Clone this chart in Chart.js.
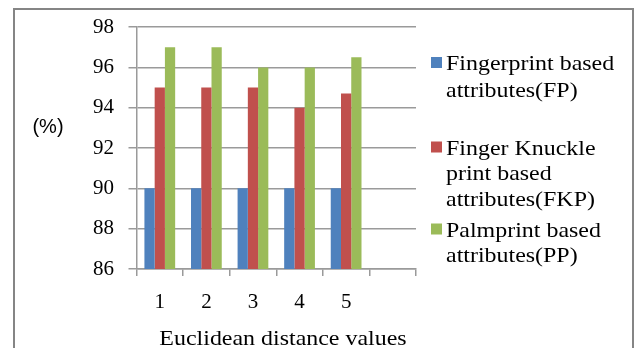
<!DOCTYPE html>
<html>
<head>
<meta charset="utf-8">
<script src="https://cdn.jsdelivr.net/npm/chart.js@4"></script>
<style>
html,body{margin:0;padding:0;background:#fff;}
canvas{display:block;}
</style>
</head>
<body>
<canvas id="c" width="640" height="348"></canvas>
<script>
// ---- data ----
const categories = ['1', '2', '3', '4', '5', ''];
const fpValues  = [90, 90, 90, 90, 90];
const fkpValues = [95, 95, 95, 94, 94.7];
const ppValues  = [97, 97, 96, 96, 96.5];
const yTickValues = [86, 88, 90, 92, 94, 96, 98];
const seriesNames = [
  'Fingerprint based attributes(FP)',
  'Finger Knuckle print based attributes(FKP)',
  'Palmprint based attributes(PP)'
];
const legendLines = [
  ['Fingerprint based', 'attributes(FP)'],
  ['Finger Knuckle', 'print based', 'attributes(FKP)'],
  ['Palmprint based', 'attributes(PP)']
];
const xTitle = 'Euclidean distance values';
const yTitle = '(%)';

// ---- styles ----
const SERIF = '"Liberation Serif", "Times New Roman", serif';
const seriesColors = ['#4F81BD', '#C0504D', '#9BBB59'];
const gridColor = '#9a9a9a';

function stretchText(ctx, text, x, y, align) {
  ctx.save();
  ctx.translate(x, y);
  ctx.scale(1.14, 1);
  ctx.textAlign = align;
  ctx.textBaseline = 'alphabetic';
  ctx.font = '21px ' + SERIF;
  ctx.fillStyle = '#000';
  ctx.fillText(text, 0, 0);
  ctx.restore();
}

const decor = {
  id: 'decor',
  beforeDraw(chart) {
    const ctx = chart.ctx;
    ctx.save();
    ctx.strokeStyle = '#858585';
    ctx.lineWidth = 2;
    ctx.beginPath();
    ctx.moveTo(14, 360);
    ctx.lineTo(14, 9);
    ctx.lineTo(633, 9);
    ctx.lineTo(633, 360);
    ctx.stroke();
    ctx.restore();
  },
  afterDraw(chart) {
    const ctx = chart.ctx;
    ctx.save();
    ctx.fillStyle = '#000';
    ctx.font = '20px "Liberation Sans", Arial, sans-serif';
    ctx.textAlign = 'center';
    ctx.textBaseline = 'alphabetic';
    ctx.fillText(yTitle, 48, 133);
    ctx.restore();

    stretchText(ctx, xTitle, 283, 345, 'center');

    const baselines = [[70, 96.5], [154.5, 180, 205.5], [236.5, 262]];
    legendLines.forEach((lines, i) => {
      ctx.save();
      ctx.fillStyle = chart.data.datasets[i].backgroundColor;
      ctx.fillRect(431, baselines[i][0] - 13, 11, 11);
      ctx.restore();
      lines.forEach((t, j) => stretchText(ctx, t, 446, baselines[i][j], 'left'));
    });
  }
};

new Chart(document.getElementById('c'), {
  type: 'bar',
  data: {
    labels: categories,
    datasets: [
      { label: seriesNames[0], data: fpValues,  backgroundColor: seriesColors[0] },
      { label: seriesNames[1], data: fkpValues, backgroundColor: seriesColors[1] },
      { label: seriesNames[2], data: ppValues,  backgroundColor: seriesColors[2] }
    ]
  },
  options: {
    responsive: false,
    animation: false,
    devicePixelRatio: 1,
    layout: { padding: { top: 24, right: 224, bottom: 0, left: 0 } },
    datasets: { bar: { barPercentage: 1.0, categoryPercentage: 0.66 } },
    plugins: {
      legend: { display: false },
      tooltip: { enabled: false },
      title: { display: false }
    },
    scales: {
      x: {
        afterFit(scale) { scale.height = 79; },
        grid: { display: true, drawOnChartArea: false, drawTicks: true, tickLength: 7, color: gridColor, lineWidth: 1.5, offset: true },
        border: { display: true, color: gridColor, width: 1.5 },
        ticks: { color: '#000', font: { family: SERIF, size: 21 }, padding: 14, maxRotation: 0 }
      },
      y: {
        min: 86,
        max: 98,
        afterFit(scale) { scale.width = 136.5; },
        afterBuildTicks(scale) { scale.ticks = yTickValues.map(v => ({ value: v })); },
        grid: { display: true, drawTicks: true, tickLength: 8, color: gridColor, lineWidth: 1.5 },
        border: { display: true, color: gridColor, width: 1.5 },
        ticks: { color: '#000', font: { family: SERIF, size: 21 }, padding: 14.5 }
      }
    }
  },
  plugins: [decor]
});
</script>
</body>
</html>
